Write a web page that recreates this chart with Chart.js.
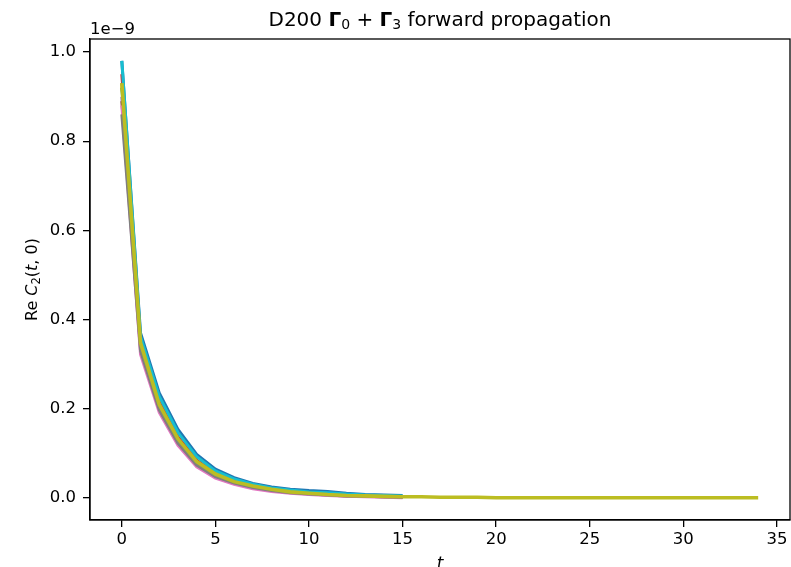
<!DOCTYPE html>
<html>
<head>
<meta charset="utf-8">
<script src="https://cdn.jsdelivr.net/npm/chart.js@4.4.0/dist/chart.umd.min.js"></script>
<style>
  html, body { margin: 0; padding: 0; background: #fff; }
  canvas { display: block; }
</style>
</head>
<body>
<canvas id="corr" width="791" height="567"></canvas>
<script>
// time slices and correlator values (units of 1e-9)
const tShort = [0, 1, 2, 3, 4, 5, 6, 7, 8, 9, 10, 11, 12, 13, 14, 15];
const tLong = [0, 1, 2, 3, 4, 5, 6, 7, 8, 9, 10, 11, 12, 13, 14, 15, 16, 17,
  18, 19, 20, 21, 22, 23, 24, 25, 26, 27, 28, 29, 30, 31, 32, 33, 34];

const xTicks = [0, 5, 10, 15, 20, 25, 30, 35];
const yTicks = [0.0, 0.2, 0.4, 0.6, 0.8, 1.0];

const cfgBlue   = [0.98, 0.370, 0.236, 0.154, 0.098, 0.065, 0.046, 0.033, 0.025, 0.020, 0.017, 0.015, 0.011, 0.008, 0.007, 0.006];
const cfgOrange = [0.93, 0.345, 0.208, 0.130, 0.080, 0.052, 0.036, 0.026, 0.019, 0.014, 0.011, 0.009, 0.006, 0.004, 0.004, 0.003];
const cfgGreen  = [0.92, 0.350, 0.212, 0.134, 0.083, 0.055, 0.038, 0.027, 0.020, 0.015, 0.010, 0.008, 0.006, 0.005, 0.004, 0.003];
const cfgRed    = [0.95, 0.352, 0.216, 0.137, 0.085, 0.056, 0.039, 0.028, 0.021, 0.015, 0.012, 0.009, 0.007, 0.005, 0.004, 0.003];
const cfgPurple = [0.90, 0.340, 0.205, 0.128, 0.078, 0.051, 0.035, 0.025, 0.018, 0.013, 0.010, 0.008, 0.006, 0.004, 0.003, 0.002];
const cfgBrown  = [0.89, 0.336, 0.202, 0.126, 0.076, 0.050, 0.035, 0.025, 0.018, 0.013, 0.010, 0.007, 0.005, 0.004, 0.003, 0.002];
const cfgPink   = [0.88, 0.322, 0.192, 0.118, 0.070, 0.045, 0.031, 0.021, 0.015, 0.011, 0.008, 0.006, 0.004, 0.003, 0.002, 0.001];
const cfgGray   = [0.86, 0.330, 0.198, 0.123, 0.074, 0.048, 0.034, 0.024, 0.017, 0.012, 0.009, 0.007, 0.005, 0.004, 0.003, 0.002];
const cfgCyan   = [0.98, 0.362, 0.228, 0.147, 0.093, 0.061, 0.043, 0.031, 0.023, 0.018, 0.014, 0.012, 0.009, 0.007, 0.006, 0.005];
const cfgOlive  = [0.93, 0.348, 0.210, 0.133, 0.082, 0.054, 0.037, 0.027, 0.020, 0.014, 0.011, 0.008, 0.006, 0.005, 0.004, 0.003,
  0.003, 0.002, 0.002, 0.002, 0.001, 0.001, 0.001, 0.001, 0.001, 0.001, 0.001, 0.001, 0.001, 0.001, 0.001, 0.001, 0.001, 0.001, 0.001];

const series = [
  { values: cfgOlive,  t: tLong,  color: '#bcbd22', width: 3.6 },
  { values: cfgCyan,   t: tShort, color: '#17becf', width: 3 },
  { values: cfgGray,   t: tShort, color: '#7f7f7f', width: 3 },
  { values: cfgPink,   t: tShort, color: '#e377c2', width: 3 },
  { values: cfgBrown,  t: tShort, color: '#8c564b', width: 3 },
  { values: cfgPurple, t: tShort, color: '#9467bd', width: 3 },
  { values: cfgRed,    t: tShort, color: '#d62728', width: 3 },
  { values: cfgGreen,  t: tShort, color: '#2ca02c', width: 3 },
  { values: cfgOrange, t: tShort, color: '#ff7f0e', width: 3 },
  { values: cfgBlue,   t: tShort, color: '#1f77b4', width: 3 }
];

const FONT = "'DejaVu Sans', sans-serif";

// draws a run of text pieces with their own font/offset
function drawRuns(ctx, runs, x, y, align) {
  let total = 0;
  runs.forEach(r => { ctx.font = r.font; total += ctx.measureText(r.text).width; });
  let cx = align === 'center' ? x - total / 2 : x;
  runs.forEach(r => {
    ctx.font = r.font;
    ctx.fillText(r.text, cx, y + (r.dy || 0));
    cx += ctx.measureText(r.text).width;
  });
}

const decorations = {
  id: 'decorations',
  afterDraw(chart) {
    const { ctx, chartArea: a } = chart;
    ctx.save();
    ctx.strokeStyle = '#000';
    ctx.lineWidth = 1.3;
    ctx.strokeRect(a.left, a.top, a.right - a.left, a.bottom - a.top);

    ctx.fillStyle = '#000';
    ctx.textBaseline = 'alphabetic';
    ctx.textAlign = 'left';

    // title
    const n = `20px ${FONT}`;
    const b = `bold 20px ${FONT}`;
    const s = `14px ${FONT}`;
    drawRuns(ctx, [
      { text: 'D200 ', font: n },
      { text: 'Γ', font: b },
      { text: '0', font: s, dy: 3 },
      { text: ' + ', font: n },
      { text: 'Γ', font: b },
      { text: '3', font: s, dy: 3 },
      { text: ' forward propagation', font: n }
    ], (a.left + a.right) / 2, 26, 'center');

    // offset text
    ctx.font = `16.5px ${FONT}`;
    ctx.fillText('1e\u22129', a.left, 34);

    // x label
    ctx.textAlign = 'center';
    ctx.font = `italic 17px ${FONT}`;
    ctx.fillText('t', (a.left + a.right) / 2, 569);

    // y label
    ctx.save();
    ctx.translate(37, (a.top + a.bottom) / 2);
    ctx.rotate(-Math.PI / 2);
    ctx.textAlign = 'left';
    const ln = `16px ${FONT}`;
    const li = `italic 16px ${FONT}`;
    drawRuns(ctx, [
      { text: 'Re ', font: ln },
      { text: 'C', font: li },
      { text: '2', font: `11.5px ${FONT}`, dy: 3 },
      { text: '(', font: ln },
      { text: 't', font: li },
      { text: ', 0)', font: ln }
    ], 0, 0, 'center');
    ctx.restore();
    ctx.restore();
  }
};

new Chart(document.getElementById('corr'), {
  type: 'line',
  data: {
    datasets: series.map((s, i) => ({
      data: s.t.map((t, k) => ({ x: t, y: s.values[k] })),
      borderColor: s.color,
      borderWidth: s.width,
      pointRadius: 0,
      fill: false,
      tension: 0,
      order: i
    }))
  },
  options: {
    responsive: false,
    animation: false,
    devicePixelRatio: 1,
    layout: { padding: { top: 39, right: 1, left: 0, bottom: 0 } },
    plugins: { legend: { display: false }, tooltip: { enabled: false } },
    scales: {
      x: {
        type: 'linear',
        min: -1.7,
        max: 35.7,
        afterBuildTicks: sc => { sc.ticks = xTicks.map(v => ({ value: v })); },
        afterFit: sc => { sc.height = 47; },
        grid: { drawOnChartArea: false, drawTicks: true, tickLength: 7, color: '#000', lineWidth: 1.3 },
        border: { display: true, color: '#000', width: 1.3 },
        ticks: { color: '#000', font: { family: FONT, size: 16.5 }, padding: 3, maxRotation: 0 }
      },
      y: {
        type: 'linear',
        min: -0.049,
        max: 1.029,
        afterBuildTicks: sc => { sc.ticks = yTicks.map(v => ({ value: v })); },
        afterFit: sc => { sc.width = 90; },
        grid: { drawOnChartArea: false, drawTicks: true, tickLength: 7, color: '#000', lineWidth: 1.3 },
        border: { display: true, color: '#000', width: 1.3 },
        ticks: { color: '#000', font: { family: FONT, size: 16.5 }, padding: 7, callback: v => v.toFixed(1) }
      }
    }
  },
  plugins: [decorations]
});
</script>
</body>
</html>
